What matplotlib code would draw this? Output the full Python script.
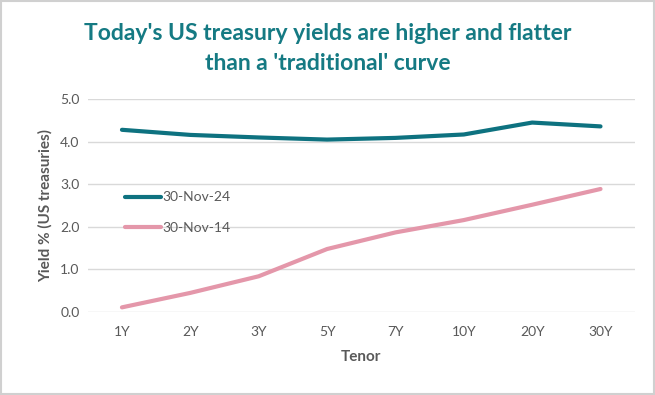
import matplotlib
matplotlib.use("Agg")
import matplotlib.pyplot as plt
from matplotlib.patches import Rectangle

tenors = ["1Y", "2Y", "3Y", "5Y", "7Y", "10Y", "20Y", "30Y"]
yields_2024 = [4.28, 4.16, 4.10, 4.05, 4.09, 4.17, 4.45, 4.36]
yields_2014 = [0.11, 0.45, 0.84, 1.48, 1.87, 2.16, 2.52, 2.89]
label_2024 = "30-Nov-24"
label_2014 = "30-Nov-14"
yticks = [0.0, 1.0, 2.0, 3.0, 4.0, 5.0]

plt.rcParams['font.family'] = ['Lato', 'DejaVu Sans']

fig = plt.figure(figsize=(6.55, 3.95), dpi=100)
fig.patches.append(Rectangle((0.002, 0.003), 0.996, 0.994, transform=fig.transFigure,
                             fill=False, edgecolor='#d0d0d0', linewidth=1.5))

ax = fig.add_axes([0.134, 0.210, 0.835, 0.539])
x = list(range(len(tenors)))
teal = '#0e7280'
pink = '#e497aa'
ax.plot(x, yields_2024, color=teal, linewidth=3.0, solid_capstyle='round', label=label_2024)
ax.plot(x, yields_2014, color=pink, linewidth=3.0, solid_capstyle='round', label=label_2014)

ax.set_xlim(-0.5, len(tenors) - 0.5)
ax.set_ylim(0, 5)
ax.set_yticks(yticks)
ax.set_yticklabels([f"{v:.1f}" for v in yticks])
ax.set_xticks(x)
ax.set_xticklabels(tenors)
ax.grid(axis='y', color='#d9d9d9', linewidth=1)
ax.set_axisbelow(True)
for s in ax.spines.values():
    s.set_visible(False)
ax.tick_params(axis='both', length=0, colors='#595959', labelsize=10)
ax.tick_params(axis='x', pad=10)
ax.tick_params(axis='y', pad=6)

ax.set_xlabel("Tenor", fontsize=11, fontweight='bold', color='#595959', labelpad=9)
ax.set_ylabel("Yield % (US treasuries)", fontsize=11, fontweight='bold', color='#595959', labelpad=5)

leg = ax.legend(loc='upper left', bbox_to_anchor=(0.045, 0.625), frameon=False,
                fontsize=10, handlelength=2.6, handletextpad=0.1, labelspacing=1.3)
for t in leg.get_texts():
    t.set_color('#595959')

fig.text(0.5, 0.915, "Today's US treasury yields are higher and flatter", ha='center', va='center',
         fontsize=16.5, fontweight='bold', color='#157a83')
fig.text(0.5, 0.84, "than a 'traditional' curve", ha='center', va='center',
         fontsize=16.5, fontweight='bold', color='#157a83')

fig.savefig("out.png", dpi=100)
